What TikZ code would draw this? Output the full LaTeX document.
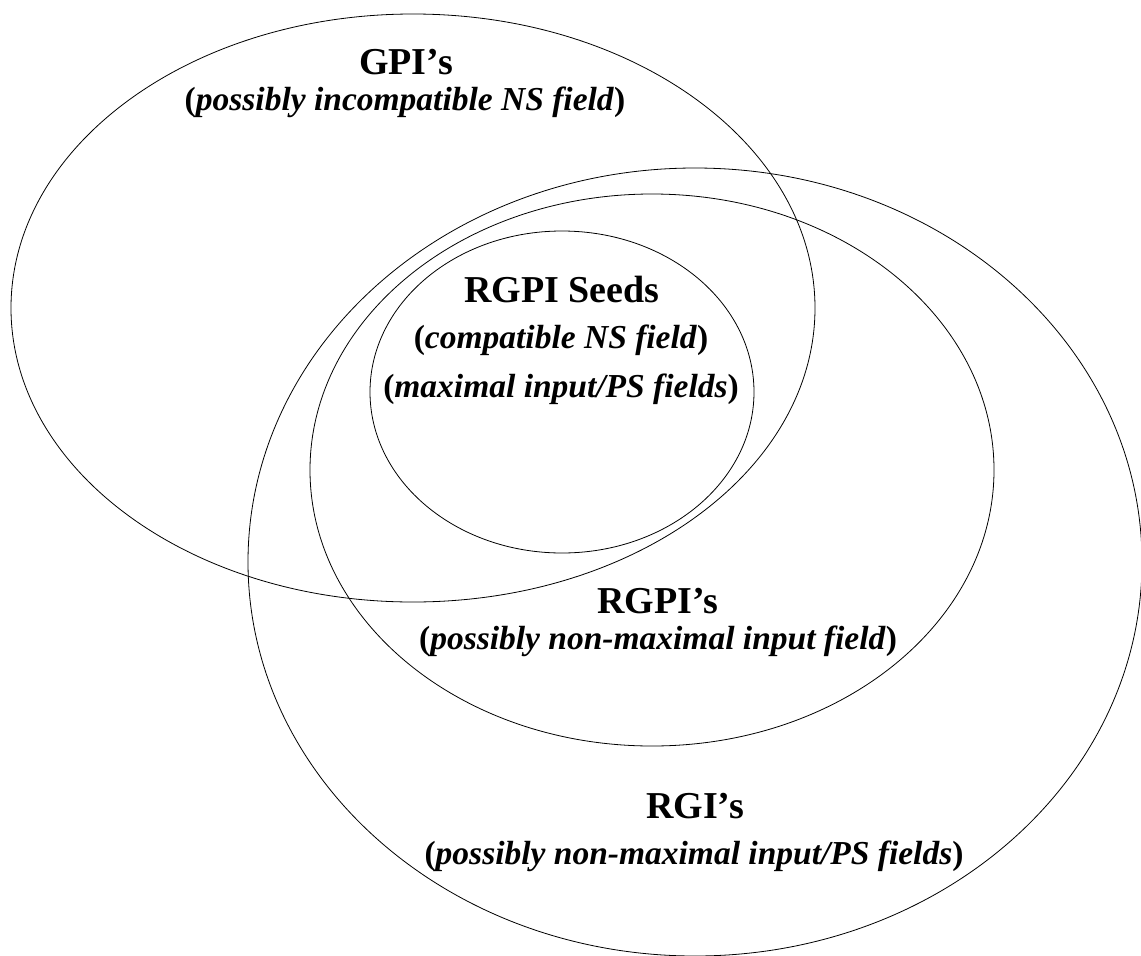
\documentclass[tikz,border=0pt]{standalone}
\usepackage{fontspec}
\setmainfont{Liberation Serif}
\usetikzlibrary{shapes.geometric}
\newcommand{\uparen}[1]{\textup{(}#1\textup{)}}
\begin{document}
\begin{tikzpicture}[x=1pt,y=-1pt,
  setshape/.style={draw, ellipse, line width=0.8pt, inner sep=0pt, outer sep=0pt},
  settitle/.style={font=\fontsize{38}{40}\selectfont\bfseries, anchor=base, inner sep=0pt},
  setnote/.style={font=\fontsize{33.5}{38}\selectfont\bfseries\itshape, anchor=base, inner sep=0pt}]
  \useasboundingbox (0,0) rectangle (1141,956);
  \clip (0,0) rectangle (1141,956);

  % the four sets
  \node[setshape, minimum width=804pt, minimum height=588pt] (gpi)   at (413,308) {};
  \node[setshape, minimum width=894pt, minimum height=788pt] (rgi)   at (695,562) {};
  \node[setshape, minimum width=684pt, minimum height=552pt] (rgpi)  at (652,470) {};
  \node[setshape, minimum width=384pt, minimum height=322pt] (seeds) at (562,392) {};

  % labels
  \node[settitle] (gpiname)    at (406,74)  {GPI’s};
  \node[setnote]  (gpinote)    at (405,110) {\uparen{possibly incompatible NS field}};

  \node[settitle] (seedsname)  at (562,302) {RGPI Seeds};
  \node[setnote]  (seedsnoteA) at (561,348) {\uparen{compatible NS field}};
  \node[setnote]  (seedsnoteB) at (561,397) {\uparen{maximal input/PS fields}};

  \node[settitle] (rgpiname)   at (658,613) {RGPI’s};
  \node[setnote]  (rgpinote)   at (658,649) {\uparen{possibly non-maximal input field}};

  \node[settitle] (rginame)    at (695,818) {RGI’s};
  \node[setnote]  (rginote)    at (694,864) {\uparen{possibly non-maximal input/PS fields}};
\end{tikzpicture}
\end{document}
